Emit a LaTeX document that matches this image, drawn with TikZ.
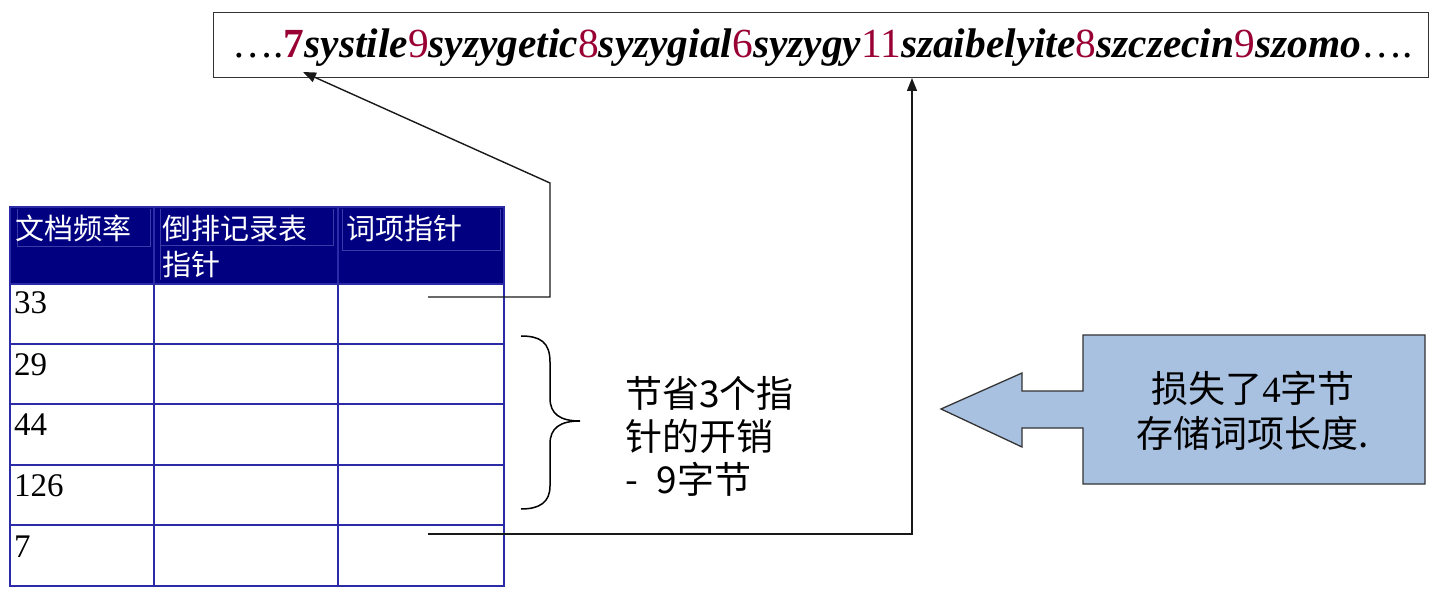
\documentclass[tikz,border=0pt]{standalone}
\usepackage{fontspec}
\setmainfont{Liberation Serif}
\newfontfamily\cjk{Noto Sans CJK SC}
\usetikzlibrary{arrows.meta}
\definecolor{hdr}{HTML}{000080}
\definecolor{num}{HTML}{990033}
\definecolor{callfill}{HTML}{A9C1E0}
\definecolor{gridc}{HTML}{2B2BA8}
\definecolor{subc}{HTML}{3A3AA8}
\newcommand{\myword}[1]{\textbf{\textit{#1}}}
\newcommand{\mynum}[1]{\textcolor{num}{#1}}
\tikzset{
  conn/.style={line width=1.4pt, black!90, -{Triangle[length=13pt,width=10pt]}},
  gridline/.style={line width=1.8pt, gridc},
  subline/.style={line width=1pt, subc},
  rownum/.style={anchor=base west, inner sep=0, font=\fontsize{33}{36}\selectfont},
  hdrtext/.style={anchor=base west, inner sep=0, text=white, font=\cjk\fontsize{29}{32}\selectfont},
}
\begin{document}
\begin{tikzpicture}[x=1pt,y=-1pt]
\useasboundingbox (0,0) rectangle (1432,593);
% top string box
\node[draw, line width=1.3pt, black!80, minimum width=1215pt, minimum height=65pt, anchor=north west, inner sep=0] (topbox) at (213,12) {};
\node[anchor=base west, inner sep=0, font=\fontsize{41.4}{44}\selectfont] (toptext) at (232,58)
 {….\mynum{\textbf{7}}\myword{systile}\mynum{9}\myword{syzygetic}\mynum{8}\myword{syzygial}\mynum{6}\myword{syzygy}\mynum{11}\myword{szaibelyite}\mynum{8}\myword{szczecin}\mynum{9}\myword{szomo}….};
% table header
\fill[hdr] (10,207) rectangle (504,284);
\draw[subline] (17,209) -- (17,247) (150,209) -- (150,247) (17,247) -- (150,247);
\draw[subline] (160,209) -- (160,280) (333,209) -- (333,246) (160,246) -- (333,246);
\draw[subline] (342,209) -- (342,251) (500,209) -- (500,251) (342,251) -- (500,251);
% table grid
\draw[gridline] (10,207) rectangle (504,586);
\foreach \yy in {284,344,404,465,525} \draw[gridline] (10,\yy) -- (504,\yy);
\draw[gridline] (154,207) -- (154,586);
\draw[gridline] (338,207) -- (338,586);
% header text
\node[hdrtext] (h1) at (15,240) {文档频率};
\node[hdrtext] (h2) at (162,240) {倒排记录表};
\node[hdrtext] (h2b) at (162,276) {指针};
\node[hdrtext] (h3) at (346,240) {词项指针};
% row numbers
\node[rownum] (r1) at (14,314) {33};
\node[rownum] (r2) at (14,375) {29};
\node[rownum] (r3) at (14,435) {44};
\node[rownum] (r4) at (14,496) {126};
\node[rownum] (r5) at (14,557) {7};
% connectors
\coordinate (s1) at (428,297);
\coordinate (t1) at (303,72);
\coordinate (s2) at (428,534);
\coordinate (t2) at (912,78);
\draw[conn] (s1) -- (550,297) -- (550,183) -- (t1);
\draw[conn] (s2) -- (912,534) -- (t2);
% brace
\draw[line width=1.5pt] (521,336) .. controls (540,336) and (550,342) .. (550,362) -- (550,398)
  .. controls (550,414) and (560,421) .. (580,421)
  .. controls (560,421) and (550,428) .. (550,444) -- (550,486)
  .. controls (550,502) and (540,509) .. (521,509);
\node[anchor=north west, inner sep=0, align=left, font=\cjk\fontsize{37}{43}\selectfont] (save) at (625,376)
 {节省3个指\\针的开销\\-\hspace{0.5em}9字节};
% callout
\draw[line width=1.3pt, black!80, fill=callfill] (1083,335) -- (1425,335) -- (1425,484) -- (1083,484)
  -- (1083,428) -- (1022,428) -- (1022,447) -- (941,409) -- (1022,373) -- (1022,391) -- (1083,391) -- cycle;
\node[align=center, inner sep=0, font=\cjk\fontsize{37}{45}\selectfont] (loss) at (1253,411)
 {损失了{\rmfamily 4}字节\\存储词项长度.};
\end{tikzpicture}
\end{document}
